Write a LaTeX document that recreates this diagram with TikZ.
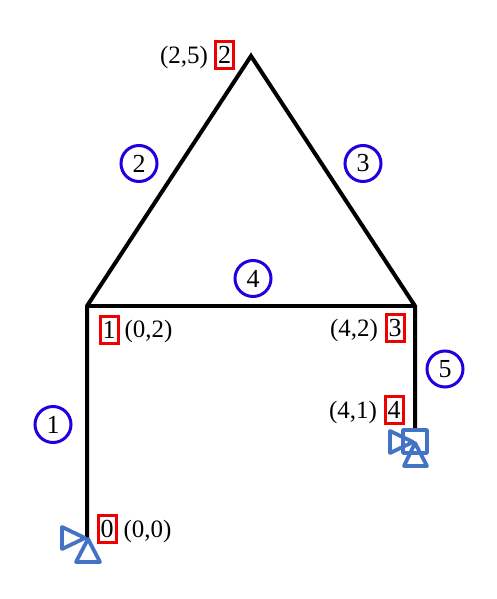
\documentclass[tikz,border=0pt]{standalone}
\usepackage{fontspec}
\setmainfont{Liberation Serif}
\definecolor{elemblue}{RGB}{32,0,224}
\definecolor{supblue}{RGB}{68,114,196}
\definecolor{idred}{RGB}{240,0,0}
\tikzset{
  x=1pt,y=-1pt,
  member/.style={line width=4pt,black,line join=miter},
  elem/.style={circle,draw=elemblue,line width=3pt,minimum size=36pt,inner sep=0pt,font=\fontsize{26}{26}\selectfont,text=black},
  idbox/.style={draw=idred,line width=3pt,minimum width=18pt,minimum height=27pt,inner sep=0pt,font=\fontsize{26}{26}\selectfont},
  lbl/.style={inner sep=0pt,font=\fontsize{25}{25}\selectfont},
  sup/.style={draw=supblue,line width=3.8pt,line join=round,line cap=round},
}
\begin{document}
\begin{tikzpicture}
\useasboundingbox (0,0) rectangle (496,599);
\coordinate (j0) at (87,540);
\coordinate (j1) at (87,306);
\coordinate (j2) at (251,56);
\coordinate (j3) at (415,306);
\coordinate (j4) at (415,430);
\draw[member] (j0) -- (j1) -- (j2) -- (j3) -- (j4);
\draw[member] (j1) -- (j3);
\node[elem] (e1) at (53,424.5) {1};
\node[elem] (e2) at (139,163.5) {2};
\node[elem] (e3) at (363,163.5) {3};
\node[elem] (e4) at (253,278.5) {4};
\node[elem] (e5) at (445,369) {5};
\node[idbox] (n0) at (107,529) {0};
\node[idbox] (n1) at (109,330) {1};
\node[idbox] (n2) at (224.5,55) {2};
\node[idbox] (n3) at (395,328) {3};
\node[idbox] (n4) at (394,410) {4};
\node[lbl] (l0) at (147.5,531) {(0,0)};
\node[lbl] (l1) at (148.5,331) {(0,2)};
\node[lbl] (l2) at (184,57) {(2,5)};
\node[lbl] (l3) at (354,330) {(4,2)};
\node[lbl] (l4) at (353,412) {(4,1)};
\draw[sup] (62,527) -- (85,538) -- (62,549) -- cycle;
\draw[sup] (88,539) -- (100,562) -- (76,562) -- cycle;
\draw[sup] (403,430) rectangle (427,453);
\draw[sup] (390,431) -- (413,442) -- (390,453) -- cycle;
\draw[sup] (415,443) -- (427,466) -- (404,466) -- cycle;
\end{tikzpicture}
\end{document}
